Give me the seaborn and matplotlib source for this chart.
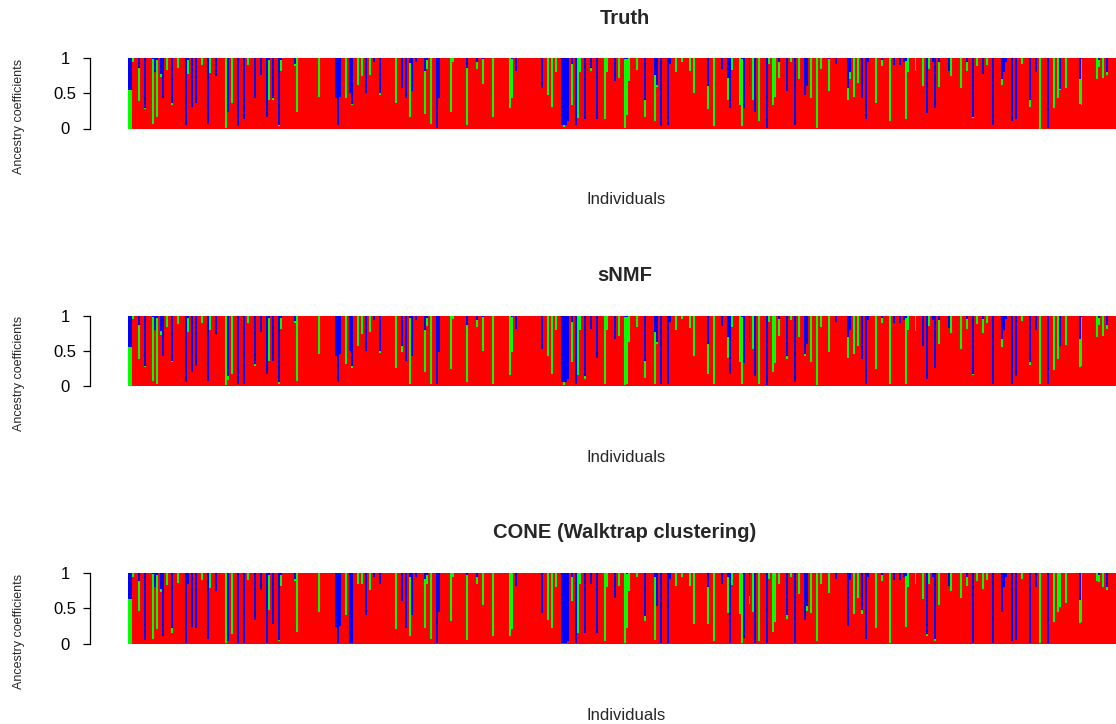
import numpy as np
import pandas as pd
import matplotlib
matplotlib.use("Agg")
import matplotlib.pyplot as plt
import seaborn as sns

n_ind = 503
titles = ["Truth", "sNMF", "CONE (Walktrap clustering)"]
col_red, col_green, col_blue = "#FF0000", "#00FF00", "#0000FF"

# individuals that are not fully red: (individual, green, blue)
truth_dips = [
    (0, .55, .45), (1, .55, .45), (2, .05, 0), (5, .47, .14), (8, .02, .71), (12, .91, .02),
    (13, 0, .2), (14, .8, .03), (16, .05, .22), (17, 0, .57), (19, .17, 0), (22, .02, .64),
    (25, .14, 0), (29, 0, .95), (30, .2, .03), (32, 0, .69), (34, 0, .64), (37, .1, 0),
    (40, 0, .93), (41, .21, 0), (44, 0, .26), (49, .99, 0), (50, 0, .76), (52, .64, 0),
    (55, 0, .97), (58, 0, .86), (60, .1, 0), (64, 0, .57), (67, 0, .24), (70, 0, .83),
    (71, .57, .03), (73, .02, .57), (76, .02, .95), (77, .16, .03), (84, .03, .08), (85, .76, 0),
    (96, .55, 0), (105, 0, .57), (106, 0, .95), (107, 0, .55), (110, .57, 0), (112, 0, .5),
    (113, .02, .65), (116, .38, 0), (118, .26, 0), (120, 0, .5), (122, .24, 0), (124, 0, .06),
    (127, .03, .5), (135, .64, 0), (138, 0, .43), (140, 0, .57), (142, .76, .07), (143, 0, .47),
    (145, 0, .06), (150, .62, .18), (151, .12, .03), (153, .93, 0), (156, 0, .99), (157, 0, .57),
    (163, .76, 0), (164, .05, 0), (171, .81, .14), (176, .1, .06), (179, .35, .02), (184, .83, 0),
    (193, .71, 0), (194, .55, .02), (196, 0, .19), (209, 0, .43), (212, .52, 0), (214, .69, 0),
    (216, .2, 0), (219, 0, .95), (220, .03, .95), (221, 0, .95), (222, 0, .9), (224, .57, .09),
    (226, 0, .95), (227, .85, 0), (228, .2, 0), (231, 0, .86), (234, .05, .14), (237, 0, .86),
    (241, .86, 0), (242, .2, 0), (246, 0, .33), (248, .29, 0), (251, .97, .02),
    (252, .79, .02), (253, .33, 0), (257, .17, 0), (261, .24, .59), (266, .66, .24), (267, .03, .38),
    (269, 0, .97), (273, 0, .95), (274, 0, .09), (277, .2, 0), (280, .05, 0), (284, .18, 0),
    (286, .5, 0), (293, .33, .4), (296, .97, 0), (300, 0, .15), (303, .31, .28), (304, 0, .71),
    (305, .17, 0), (309, .66, 0), (310, .95, .02), (311, 0, .71), (314, 0, .4), (316, .6, 0),
    (317, 0, .76), (319, .9, 0), (323, 0, .99), (324, .09, 0), (326, .67, 0), (327, .55, 0),
    (329, .24, .05), (333, 0, .47), (335, .06, 0), (337, 0, .95), (339, .3, 0), (342, 0, .52),
    (343, 0, .4), (345, .57, 0), (348, .99, 0), (350, .16, 0), (354, .45, .02), (358, 0, .09),
    (364, .16, .43), (365, .1, .2), (367, .55, 0), (369, .35, 0), (371, 0, .57), (373, 0, .86),
    (374, 0, .06), (378, .64, 0), (381, .08, .03), (385, .9, 0), (387, 0, .1), (390, 0, .1),
    (392, 0, .06), (393, .82, .04), (394, .2, 0), (398, .18, 0), (402, .4, 0), (404, 0, .78),
    (405, .15, 0), (407, 0, .06), (408, 0, .71), (410, .35, .06), (415, 0, .18), (416, .25, 0),
    (421, .42, 0), (424, .14, .05), (427, .02, .83), (429, .12, 0), (432, 0, .22), (434, .1, 0),
    (437, 0, .95), (442, .08, .3), (443, 0, .2), (444, 0, .05), (447, 0, .9), (449, 0, .86),
    (452, .08, 0), (456, .09, .6), (459, 0, .2), (461, 1.0, 0), (465, 0, .99), (468, .71, 0),
    (470, .57, 0), (471, .02, .44), (474, .42, 0), (481, .35, .3), (482, .64, .02), (490, .3, 0),
    (491, .1, .03), (493, .29, 0), (495, .04, .2),
]

# sNMF estimates, where they differ from the truth
snmf_changes = [
    (14, .94, .03), (25, .12, 0), (32, 0, .8), (34, 0, .71), (50, .05, .86), (52, .83, 0),
    (58, 0, .97), (64, .02, .69), (71, .62, .03), (73, 0, .64), (85, .93, 0), (110, .69, 0),
    (113, .02, .72), (116, .43, 0), (135, .74, 0), (138, .09, .43), (140, 0, .64), (142, .94, .03),
    (143, 0, .57), (150, .6, .2), (153, .97, 0), (156, 0, .97), (157, 0, .52), (179, .48, .02),
    (184, .97, 0), (193, .85, 0), (194, .5, .02), (209, 0, .47), (212, .57, 0), (214, .83, 0),
    (226, 0, .97), (231, .04, .86), (234, 0, .19), (237, 0, .6), (241, .97, 0),
    (252, .95, .02), (253, .38, 0), (261, .24, .64), (266, .73, .24), (269, 0, .97), (273, 0, .97),
    (286, .57, 0), (293, .43, .4), (303, .3, .3), (304, 0, .83), (311, 0, .67), (314, 0, .38),
    (316, .48, 0), (317, 0, .86), (319, .97, 0), (326, .8, 0), (327, .67, 0), (333, .05, .57),
    (342, .02, .55), (345, .66, 0), (354, .52, 0), (364, .3, .3), (365, 0, .2), (369, .43, 0),
    (371, 0, .62), (373, 0, .97), (378, .76, 0), (385, .97, 0), (393, .93, .04), (398, .22, 0),
    (402, 0, .43), (404, 0, .9), (408, 0, .74), (421, .47, 0), (432, .2, .05), (437, 0, .97),
    (442, .12, .33), (447, 0, .97), (456, .04, .66), (461, .97, 0), (465, 0, .97), (468, .78, 0),
    (470, .62, 0), (471, 0, .43), (481, .4, .33), (482, .7, .02), (495, .05, .14),
]

# CONE estimates, where they differ from the truth
cone_changes = [
    (0, .63, .37), (1, .63, .37), (5, .43, .11), (8, 0, .95), (14, .76, .03), (17, 0, .9),
    (22, .07, .78), (29, 0, .99), (30, 0, .16), (32, 0, .76), (34, 0, .78), (50, 0, .97),
    (52, .86, 0), (55, 0, .99), (58, 0, .99), (64, 0, .66), (70, 0, .99), (71, .5, .03),
    (73, 0, .73), (85, .83, 0), (105, 0, .76), (106, 0, .99), (107, 0, .75), (110, .6, 0),
    (112, 0, .99), (113, 0, .99), (116, .16, 0), (118, .16, 0), (120, 0, .59),
    (127, 0, .16), (135, .8, 0), (138, 0, .4), (140, 0, .78), (142, .85, .05), (143, 0, .6),
    (150, .7, .08), (153, .94, 0), (157, 0, .55), (163, .68, 0), (171, .92, .03), (179, .45, 0),
    (184, .9, 0), (193, .9, 0), (194, .8, 0), (209, 0, .57), (212, .66, 0), (214, .78, 0),
    (219, 0, .99), (220, 0, .99), (221, 0, .99), (222, 0, .97), (224, .35, .05), (226, 0, .99),
    (228, .15, 0), (231, 0, .85), (234, 0, .15), (237, 0, .85), (241, .97, 0), (246, 0, .35),
    (248, .18, 0), (251, .99, 0),
    (252, .76, .02), (253, .25, 0), (257, .06, 0), (261, .07, .61), (266, .9, .05), (267, 0, .47),
    (269, 0, .99), (273, 0, .99), (277, .18, 0), (286, .72, 0), (293, .53, .2), (303, .52, .05),
    (304, 0, .99), (309, .58, 0), (310, .99, 0), (311, 0, .92), (314, .12, .32), (316, .55, 0),
    (317, 0, .99), (319, .97, 0), (326, .83, 0), (327, .7, 0), (329, .16, 0), (333, .05, .6),
    (337, 0, .99), (342, 0, .66), (343, .07, .47), (348, .97, 0), (354, .28, 0), (364, 0, .75),
    (365, 0, .1), (367, .58, 0), (371, .05, .53), (373, 0, .93),
    (378, .78, 0), (385, .99, 0), (393, .73, .04), (398, .16, 0), (402, .37, 0), (404, .03, .86),
    (408, .04, .93), (410, .45, 0), (421, .35, 0), (427, 0, .99), (432, .22, 0), (437, 0, .99),
    (442, 0, .55), (447, 0, .97), (449, 0, .95), (456, 0, .99), (461, .99, 0), (465, 0, .99),
    (468, .7, 0), (470, .55, 0), (471, .48, 0), (481, .33, .38), (482, .7, 0), (490, .12, 0),
    (493, .2, 0),
]


def merge(base, changes):
    d = {i: (g, b) for i, g, b in base}
    d.update({i: (g, b) for i, g, b in changes})
    return [(i, g, b) for i, (g, b) in sorted(d.items())]


def build(dips):
    green = np.zeros(n_ind)
    blue = np.zeros(n_ind)
    for i, g, b in dips:
        green[i] = g
        blue[i] = b
    df = pd.DataFrame({"ind": np.arange(n_ind), "green": green, "blue": blue})
    # red sits at the bottom, green above it, blue on top: measured down from 1
    df["from_top_blue"] = df["blue"]
    df["from_top_green"] = (df["blue"] + df["green"]).clip(upper=1)
    return df


panels = [build(truth_dips),
          build(merge(truth_dips, snmf_changes)),
          build(merge(truth_dips, cone_changes))]

sns.set_style("white")
plt.rcParams["font.family"] = ["Liberation Sans", "DejaVu Sans"]

W, H = 1116, 724
fig = plt.figure(figsize=(W / 100, H / 100), dpi=100)

for k, (df, title) in enumerate(zip(panels, titles)):
    off = 257.5 * k
    top, bot = 58 + off, 128.5 + off
    ax = fig.add_axes([128 / W, 1 - bot / H, 994 / W, (bot - top) / H])
    ax.set_facecolor(col_red)
    for col, c in [("from_top_green", col_green), ("from_top_blue", col_blue)]:
        sns.barplot(data=df, x="ind", y=col, color=c, width=1.0, saturation=1,
                    linewidth=0, errorbar=None, ax=ax)
    ax.set_xlim(-0.5, n_ind - 0.5)
    ax.set_ylim(1, 0)
    ax.set_xticks([])
    ax.set_xlabel("")
    ax.set_ylabel("")
    for s in ["top", "right", "bottom"]:
        ax.spines[s].set_visible(False)
    ax.spines["left"].set_position(("outward", 38 * 0.72))
    ax.spines["left"].set_color("black")
    ax.spines["left"].set_linewidth(0.9)
    ax.set_yticks([0, 0.5, 1])
    ax.set_yticklabels(["1", "0.5", "0"])
    ax.tick_params(axis="y", length=5, width=0.9, direction="out", colors="black",
                   labelsize=12, pad=13, left=True)
    for lab in ax.get_yticklabels():
        lab.set_horizontalalignment("center")

    fig.text(625 / W, 1 - (18 + off) / H, title, ha="center", va="center",
             fontsize=14.5, fontweight="bold")
    fig.text(626 / W, 1 - (200 + off) / H, "Individuals", ha="center", va="center",
             fontsize=12)
    fig.text(19 / W, 1 - (116 + off) / H, "Ancestry coefficients", ha="center",
             va="center", rotation=90, fontsize=9)

fig.savefig("out.png", dpi=100)
